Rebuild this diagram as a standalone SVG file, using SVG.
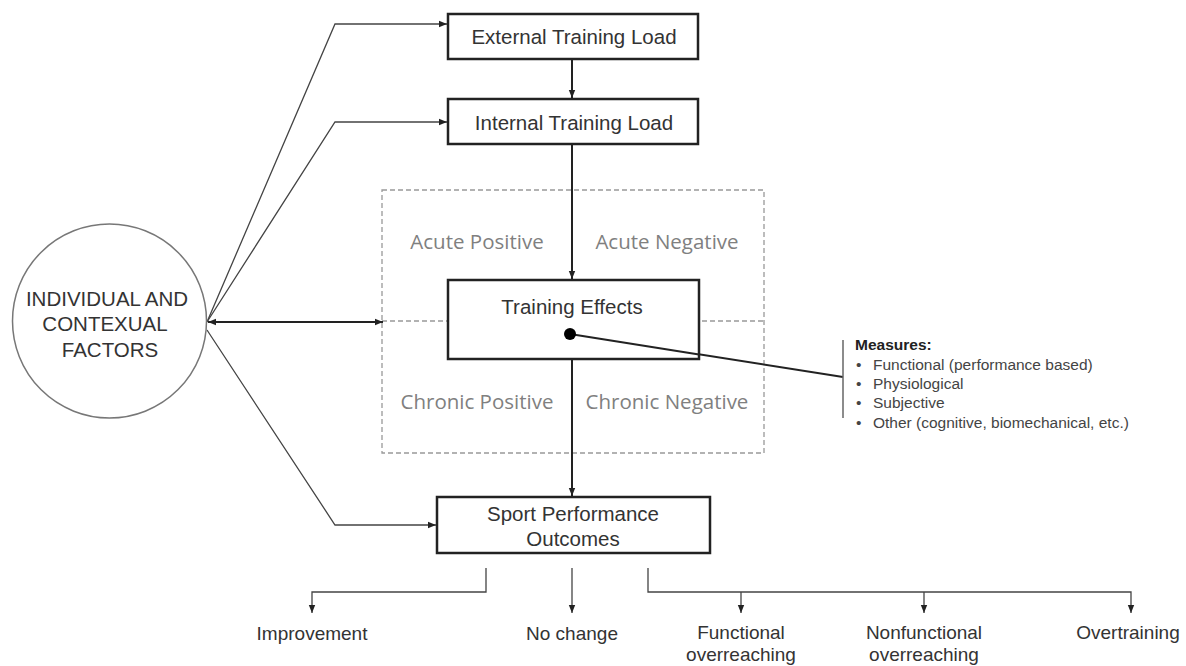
<svg xmlns="http://www.w3.org/2000/svg" width="1186" height="666" viewBox="0 0 1186 666">
<style>
.box{fill:#fff;stroke:#222;stroke-width:2.5}
.t{font-family:"Liberation Sans",Arial,sans-serif;fill:#333;text-anchor:middle}
.q{font-family:"Open Sans","Liberation Sans",sans-serif;fill:#808080;font-size:20.5px;text-anchor:middle}
.thin{fill:none;stroke:#444;stroke-width:1.3}
.thick{fill:none;stroke:#222;stroke-width:2}
.dash{fill:none;stroke:#999;stroke-width:1.3;stroke-dasharray:5 3}
</style>
<defs>
<marker id="ah" viewBox="0 0 10 10" refX="10" refY="5" markerWidth="8" markerHeight="8" markerUnits="userSpaceOnUse" orient="auto-start-reverse">
<path d="M0,1 L10,5 L0,9 z" fill="#222"/>
</marker>
</defs>
<rect width="1186" height="666" fill="#fff"/>
<g id="quadrants">
<rect class="dash" x="382" y="190" width="382" height="263"/>
<line class="dash" x1="382" y1="321" x2="764" y2="321"/>
<text class="q" x="477" y="249">Acute Positive</text>
<text class="q" x="667" y="249">Acute Negative</text>
<text class="q" x="477" y="409">Chronic Positive</text>
<text class="q" x="667" y="409">Chronic Negative</text>
</g>
<g id="connectors">
<polyline class="thin" points="207,322 335,24 447,24" marker-end="url(#ah)"/>
<polyline class="thin" points="207,322 335,122 447,122" marker-end="url(#ah)"/>
<polyline class="thin" points="207,330 335,525 436,525" marker-end="url(#ah)"/>
<line class="thick" x1="208" y1="322" x2="383" y2="322" stroke-width="1.6" marker-start="url(#ah)" marker-end="url(#ah)"/>
<line class="thick" x1="572" y1="60" x2="572" y2="98" marker-end="url(#ah)"/>
<line class="thick" x1="572" y1="145" x2="572" y2="279" marker-end="url(#ah)"/>
<line class="thick" x1="572" y1="360" x2="572" y2="496" marker-end="url(#ah)"/>
<line class="thick" x1="570" y1="334" x2="843" y2="377"/>
<line x1="843" y1="340" x2="843" y2="418" stroke="#666" stroke-width="1.5"/>
<polyline class="thin" points="486,568 486,592 312,592 312,613" marker-end="url(#ah)"/>
<line class="thin" x1="572" y1="568" x2="572" y2="613" marker-end="url(#ah)"/>
<polyline class="thin" points="648,568 648,592 1131,592 1131,613" marker-end="url(#ah)"/>
<line class="thin" x1="741" y1="592" x2="741" y2="613" marker-end="url(#ah)"/>
<line class="thin" x1="924" y1="592" x2="924" y2="613" marker-end="url(#ah)"/>
</g>
<g id="factors">
<circle cx="109.5" cy="321" r="97" fill="#fff" stroke="#777" stroke-width="1.5"/>
<text class="t" x="107" y="306" font-size="20.5">INDIVIDUAL  AND</text>
<text class="t" x="105" y="331" font-size="20.5">CONTEXUAL</text>
<text class="t" x="110" y="357" font-size="20.5">FACTORS</text>
</g>
<g id="external">
<rect class="box" x="448" y="14" width="250" height="45"/>
<text class="t" x="574" y="44" font-size="20.5">External Training Load</text>
</g>
<g id="internal">
<rect class="box" x="448" y="99" width="250" height="45"/>
<text class="t" x="574" y="130" font-size="20.5">Internal Training Load</text>
</g>
<g id="effects">
<rect class="box" x="448" y="280" width="251" height="79"/>
<text class="t" x="572" y="314" font-size="20.5" fill="#222">Training  Effects</text>
<line class="thick" x1="570" y1="334" x2="699" y2="354.5"/>
<circle cx="570" cy="334" r="6" fill="#000"/>
</g>
<g id="sport">
<rect class="box" x="437" y="497" width="273" height="56"/>
<text class="t" x="573" y="521" font-size="20.5">Sport Performance</text>
<text class="t" x="573" y="546" font-size="20.5">Outcomes</text>
</g>
<g id="measures" font-family="'Liberation Sans',Arial,sans-serif" font-size="15.5" fill="#444">
<text x="855" y="350" font-weight="bold" fill="#222">Measures:</text>
<text x="856" y="370">•</text><text x="873" y="370">Functional (performance based)</text>
<text x="856" y="389">•</text><text x="873" y="389">Physiological</text>
<text x="856" y="408">•</text><text x="873" y="408">Subjective</text>
<text x="856" y="428">•</text><text x="873" y="428">Other (cognitive, biomechanical, etc.)</text>
</g>
<g id="outcomes" font-size="19">
<text class="t" x="312" y="640">Improvement</text>
<text class="t" x="572" y="640">No change</text>
<text class="t" x="741" y="639">Functional</text>
<text class="t" x="741" y="661">overreaching</text>
<text class="t" x="924" y="639">Nonfunctional</text>
<text class="t" x="924" y="661">overreaching</text>
<text class="t" x="1128" y="639">Overtraining</text>
</g>
</svg>
